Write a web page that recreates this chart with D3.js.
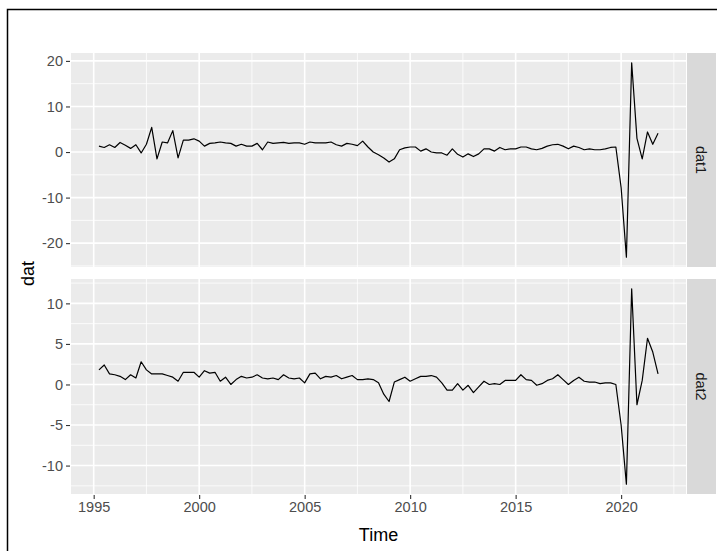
<!DOCTYPE html>
<html>
<head>
<meta charset="utf-8">
<script src="https://cdn.jsdelivr.net/npm/d3@7"></script>
<style>
  body { margin: 0; background: #fff; }
  svg { display: block; font-family: "Liberation Sans", Arial, sans-serif; }
</style>
</head>
<body>
<svg id="chart" width="717" height="551"></svg>
<script>
// quarterly series, first observation 1995 Q2
const startYear = 1995.25;
const frequency = 4;

const dat1 = [
  1.3, 1.0, 1.6, 1.0, 2.1, 1.5, 0.8, 1.6, -0.2, 1.7,
  5.4, -1.5, 2.2, 2.0, 4.7, -1.3, 2.6, 2.6, 2.9, 2.4,
  1.3, 1.9, 2.0, 2.2, 2.0, 1.9, 1.3, 1.7, 1.3, 1.3,
  1.9, 0.5, 2.2, 1.9, 2.0, 2.1, 1.9, 2.0, 2.0, 1.7,
  2.2, 2.0, 2.0, 2.0, 2.2, 1.6, 1.3, 1.9, 1.7, 1.4,
  2.4, 1.1, 0.0, -0.6, -1.3, -2.2, -1.5, 0.5, 0.9, 1.1,
  1.1, 0.2, 0.7, 0.0, -0.2, -0.2, -0.7, 0.7, -0.5, -1.1,
  -0.4, -1.0, -0.4, 0.7, 0.7, 0.2, 1.0, 0.5, 0.7, 0.7,
  1.1, 1.1, 0.7, 0.5, 0.8, 1.3, 1.6, 1.7, 1.3, 0.7,
  1.3, 1.0, 0.5, 0.7, 0.5, 0.5, 0.7, 1.0, 1.1, -7.8,
  -23.1, 19.6, 3.0, -1.5, 4.4, 1.7, 4.1
];

const dat2 = [
  1.8, 2.4, 1.3, 1.2, 1.0, 0.6, 1.2, 0.8, 2.8, 1.8,
  1.3, 1.3, 1.3, 1.1, 0.9, 0.4, 1.5, 1.5, 1.5, 0.9,
  1.7, 1.4, 1.5, 0.4, 0.9, 0.0, 0.6, 1.0, 0.8, 0.9,
  1.2, 0.8, 0.7, 0.8, 0.6, 1.2, 0.8, 0.7, 0.8, 0.2,
  1.3, 1.4, 0.7, 1.0, 0.9, 1.1, 0.7, 0.9, 1.1, 0.6,
  0.6, 0.7, 0.6, 0.2, -1.2, -2.1, 0.3, 0.6, 0.9, 0.4,
  0.7, 1.0, 1.0, 1.1, 0.9, 0.2, -0.7, -0.7, 0.1, -0.7,
  -0.1, -1.0, -0.3, 0.4, 0.0, 0.1, 0.0, 0.5, 0.5, 0.5,
  1.2, 0.6, 0.5, -0.1, 0.1, 0.5, 0.7, 1.2, 0.6, 0.0,
  0.5, 0.9, 0.4, 0.3, 0.3, 0.1, 0.2, 0.2, 0.0, -5.0,
  -12.3, 11.8, -2.5, 0.5, 5.7, 4.0, 1.3
];

const facetNames = ['dat1', 'dat2'];
const xBreaks = [1995, 2000, 2005, 2010, 2015, 2020];
const yBreaks1 = [-20, -10, 0, 10, 20];
const yBreaks2 = [-10, -5, 0, 5, 10];

const time = dat1.map((d, i) => startYear + i / frequency);

// layout (measured from reference)
const panelLeft = 71, panelRight = 686;
const panels = [
  { name: facetNames[0], values: dat1, breaks: yBreaks1, top: 53, bottom: 267 },
  { name: facetNames[1], values: dat2, breaks: yBreaks2, top: 279, bottom: 494 }
];
const stripWidth = 29;

const svg = d3.select('#chart');

// ggplot-like 5% expansion
function expand(ext) {
  const pad = (ext[1] - ext[0]) * 0.05;
  return [ext[0] - pad, ext[1] + pad];
}

function minorBreaks(breaks, domain) {
  const step = breaks[1] - breaks[0];
  const out = [];
  for (let v = breaks[0] - step / 2; v <= domain[1]; v += step / 2) {
    if (v >= domain[0] && !breaks.includes(v)) out.push(v);
  }
  return out;
}

const xScale = d3.scaleLinear()
  .domain(expand(d3.extent(time)))
  .range([panelLeft, panelRight]);
const xMinor = minorBreaks(xBreaks, xScale.domain());

panels.forEach(p => {
  const yScale = d3.scaleLinear()
    .domain(expand(d3.extent(p.values)))
    .range([p.bottom, p.top]);
  const yMinor = minorBreaks(p.breaks, yScale.domain());

  const g = svg.append('g');

  g.append('rect')
    .attr('x', panelLeft).attr('y', p.top)
    .attr('width', panelRight - panelLeft).attr('height', p.bottom - p.top)
    .attr('fill', '#EBEBEB');

  // minor grid
  g.selectAll('.hminor').data(yMinor).join('line')
    .attr('x1', panelLeft).attr('x2', panelRight)
    .attr('y1', d => yScale(d)).attr('y2', d => yScale(d))
    .attr('stroke', '#fff').attr('stroke-width', 0.8);
  g.selectAll('.vminor').data(xMinor).join('line')
    .attr('y1', p.top).attr('y2', p.bottom)
    .attr('x1', d => xScale(d)).attr('x2', d => xScale(d))
    .attr('stroke', '#fff').attr('stroke-width', 0.8);

  // major grid
  g.selectAll('.hmajor').data(p.breaks).join('line')
    .attr('x1', panelLeft).attr('x2', panelRight)
    .attr('y1', d => yScale(d)).attr('y2', d => yScale(d))
    .attr('stroke', '#fff').attr('stroke-width', 1.6);
  g.selectAll('.vmajor').data(xBreaks).join('line')
    .attr('y1', p.top).attr('y2', p.bottom)
    .attr('x1', d => xScale(d)).attr('x2', d => xScale(d))
    .attr('stroke', '#fff').attr('stroke-width', 1.6);

  // series line
  const line = d3.line()
    .x((d, i) => xScale(time[i]))
    .y(d => yScale(d));
  g.append('path')
    .datum(p.values)
    .attr('d', line)
    .attr('fill', 'none')
    .attr('stroke', '#000')
    .attr('stroke-width', 1.2)
    .attr('stroke-linejoin', 'round');

  // y axis
  const yAxis = d3.axisLeft(yScale)
    .tickValues(p.breaks)
    .tickSize(4)
    .tickPadding(3)
    .tickFormat(d => String(d));
  const yAxisG = g.append('g')
    .attr('transform', `translate(${panelLeft - 1},0)`)
    .call(yAxis)
    .call(a => a.select('.domain').remove());
  yAxisG.selectAll('line').attr('stroke', '#333333').attr('stroke-width', 1.1);
  yAxisG.selectAll('text')
    .attr('fill', '#4D4D4D')
    .style('font-size', '14.5px')
    .style('font-family', '"Liberation Sans", Arial, sans-serif');

  // strip on the right
  g.append('rect')
    .attr('x', panelRight + 1).attr('y', p.top)
    .attr('width', stripWidth).attr('height', p.bottom - p.top)
    .attr('fill', '#D9D9D9');
  const cx = panelRight + 1 + stripWidth / 2;
  const cy = (p.top + p.bottom) / 2;
  g.append('text')
    .attr('transform', `translate(${cx},${cy}) rotate(90)`)
    .attr('text-anchor', 'middle')
    .attr('dy', '0.35em')
    .attr('fill', '#1A1A1A')
    .style('font-size', '14.5px')
    .text(p.name);
});

// x axis under bottom panel
const xAxis = d3.axisBottom(xScale)
  .tickValues(xBreaks)
  .tickSize(4)
  .tickPadding(3)
  .tickFormat(d => String(d));
const xAxisG = svg.append('g')
  .attr('transform', `translate(0,${panels[1].bottom + 1})`)
  .call(xAxis)
  .call(a => a.select('.domain').remove());
xAxisG.selectAll('line').attr('stroke', '#333333').attr('stroke-width', 1.1);
xAxisG.selectAll('text')
  .attr('fill', '#4D4D4D')
  .style('font-size', '14.5px')
  .style('font-family', '"Liberation Sans", Arial, sans-serif');

// axis titles
svg.append('text')
  .attr('x', (panelLeft + panelRight) / 2)
  .attr('y', 541)
  .attr('text-anchor', 'middle')
  .attr('fill', '#000')
  .style('font-size', '18px')
  .text('Time');

svg.append('text')
  .attr('transform', `translate(34,${(panels[0].top + panels[1].bottom) / 2}) rotate(-90)`)
  .attr('text-anchor', 'middle')
  .attr('fill', '#000')
  .style('font-size', '18px')
  .text('dat');

// outer frame of the plot pane
svg.append('rect')
  .attr('x', 7.5).attr('y', 9.5)
  .attr('width', 720).attr('height', 560)
  .attr('fill', 'none')
  .attr('stroke', '#000')
  .attr('stroke-width', 1.5);
</script>
</body>
</html>
